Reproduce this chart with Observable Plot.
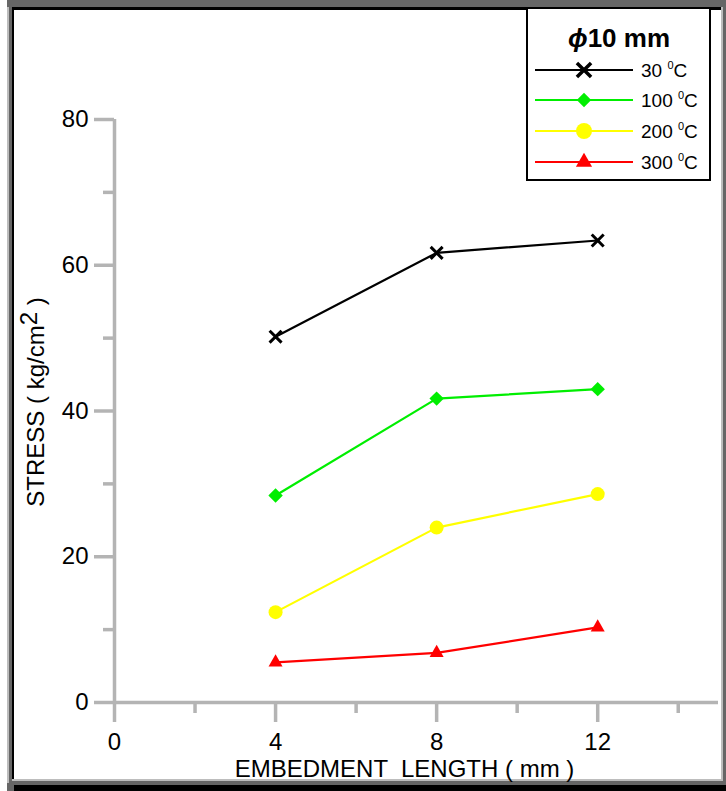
<!DOCTYPE html>
<html>
<head>
<meta charset="utf-8">
<script src="https://cdn.jsdelivr.net/npm/d3@7"></script>
<script src="https://cdn.jsdelivr.net/npm/@observablehq/plot@0.6"></script>
<style>
  html, body { margin: 0; padding: 0; background: #ffffff; }
  #wrap { position: relative; width: 726px; height: 791px; overflow: hidden; font-family: "Liberation Sans", Arial, sans-serif; }
  .f { position: absolute; }
  #chart, #legend { position: absolute; left: 0; top: 0; }
</style>
</head>
<body>
<div id="wrap">
  <div class="f" style="left:7px;top:0;width:719px;height:791px;background:#666666"></div>
  <div class="f" style="left:7px;top:7px;width:2px;height:776px;background:#bdbdbd"></div>
  <div class="f" style="left:14px;top:785px;width:712px;height:6px;background:#000000"></div>
  <div class="f" style="left:12px;top:7px;width:711px;height:774px;background:#bdbdbd"></div>
  <div class="f" style="left:12px;top:7px;width:709px;height:772px;background:#000000"></div>
  <div class="f" style="left:14px;top:10px;width:707px;height:769px;background:#ffffff"></div>
  <div id="chart"></div>
  <svg id="legend" width="726" height="791"></svg>
</div>
<script>
// ---- data ----
const lengths = [4, 8, 12];
const stress30 = [50.2, 61.7, 63.4];
const stress100 = [28.4, 41.7, 43.0];
const stress200 = [12.4, 24.0, 28.6];
const stress300 = [5.5, 6.8, 10.3];
const seriesNames = ["30", "100", "200", "300"];
const seriesColors = ["#000000", "#00ee00", "#ffff00", "#ff0000"];
const seriesSymbols = ["times", "diamond2", "circle", "triangle"];
const xMajorTicks = [0, 4, 8, 12];
const xMinorTicks = [2, 6, 10, 14];
const yMajorTicks = [0, 20, 40, 60, 80];
const yMinorTicks = [10, 30, 50, 70];
const xLabel = "EMBEDMENT \u00a0LENGTH ( mm )";
const yLabel = "STRESS ( kg/cm2 )";
const legendTitle = "10 mm";

const allSeries = [stress30, stress100, stress200, stress300];
const rows = [];
allSeries.forEach((vals, s) => vals.forEach((v, i) => rows.push({series: seriesNames[s], length: lengths[i], stress: v})));

const axisGray = "#b4b4b4";
const fontFam = "'Liberation Sans', Arial, sans-serif";

const marks = [
  Plot.ruleX([0], {y1: 0, y2: 80, stroke: axisGray, strokeWidth: 3.5}),
  Plot.ruleY([0], {x1: 0, x2: 15, stroke: axisGray, strokeWidth: 3.5}),
  Plot.axisX(xMajorTicks, {tickSize: 20, tickPadding: 10, stroke: axisGray, strokeWidth: 3.5, fill: "#000", fontSize: 24, label: null, tickFormat: d => String(d)}),
  Plot.axisX(xMinorTicks, {tickSize: 11, stroke: axisGray, strokeWidth: 3.5, fill: "none", label: null, tickFormat: () => ""}),
  Plot.axisY(yMajorTicks, {tickSize: 20, tickPadding: 6, stroke: axisGray, strokeWidth: 3.5, fill: "#000", fontSize: 24, label: null, tickFormat: d => String(d)}),
  Plot.axisY(yMinorTicks, {tickSize: 11, stroke: axisGray, strokeWidth: 3.5, fill: "none", label: null, tickFormat: () => ""}),
  Plot.text([xLabel], {frameAnchor: "bottom", text: d => d, dy: 74, dx: -12, fontSize: 24, fill: "#000", textAnchor: "middle"}),
  Plot.text([yLabel], {frameAnchor: "left", text: d => d, rotate: -90, dx: -78, dy: -9, fontSize: 24, fill: "#000", textAnchor: "middle"})
];

seriesNames.forEach((name, s) => {
  const data = rows.filter(r => r.series === name);
  marks.push(Plot.line(data, {x: "length", y: "stress", stroke: seriesColors[s], strokeWidth: 2.2}));
  const sym = seriesSymbols[s];
  if (sym === "times") {
    marks.push(Plot.dot(data, {x: "length", y: "stress", symbol: sym, r: 5.5, stroke: seriesColors[s], strokeWidth: 3}));
  } else {
    const r = sym === "circle" ? 7 : (sym === "triangle" ? 5.2 : 6.5);
    marks.push(Plot.dot(data, {x: "length", y: "stress", symbol: sym, r, fill: seriesColors[s], stroke: "none"}));
  }
});

const plot = Plot.plot({
  width: 726,
  height: 791,
  marginLeft: 114,
  marginRight: 8,
  marginTop: 119,
  marginBottom: 89,
  x: {domain: [0, 15], axis: null},
  y: {domain: [0, 80], axis: null},
  style: {background: "transparent", fontFamily: fontFam, fontSize: "24px", overflow: "visible", color: "#000"},
  marks
});
document.getElementById("chart").appendChild(plot);

// superscript 2 in the y label
d3.select(plot).selectAll("text").filter(function() { return this.textContent === yLabel; })
  .each(function() {
    const t = d3.select(this);
    t.attr("text-anchor", "middle");
    t.text(null);
    t.append("tspan").text("STRESS ( kg/cm");
    t.append("tspan").attr("dy", "-0.3em").text("2");
    t.append("tspan").attr("dy", "0.3em").text(" )");
  });

// ---- legend ----
const lg = d3.select("#legend");
lg.append("rect").attr("x", 527).attr("y", 8).attr("width", 183).attr("height", 172)
  .attr("fill", "#fff").attr("stroke", "#000").attr("stroke-width", 2);
const title = lg.append("text").attr("x", 619).attr("y", 47).attr("text-anchor", "middle")
  .attr("font-family", fontFam).attr("font-size", 26).attr("font-weight", "bold");
title.append("tspan").attr("font-style", "italic").text("\u03d5");
title.append("tspan").text(legendTitle);
const rowY = [70, 100, 131, 162];
seriesNames.forEach((name, s) => {
  const y = rowY[s];
  lg.append("line").attr("x1", 535).attr("x2", 633).attr("y1", y).attr("y2", y)
    .attr("stroke", seriesColors[s]).attr("stroke-width", 2.2);
  const sym = seriesSymbols[s];
  const symType = {times: d3.symbolTimes, diamond2: d3.symbolDiamond2, circle: d3.symbolCircle, triangle: d3.symbolTriangle}[sym];
  const r = sym === "times" ? 6.5 : sym === "circle" ? 8 : sym === "triangle" ? 6 : 6.5;
  const path = lg.append("path").attr("transform", `translate(584,${y})`)
    .attr("d", d3.symbol(symType, Math.PI * r * r)());
  if (sym === "times") path.attr("fill", "none").attr("stroke", seriesColors[s]).attr("stroke-width", 3.5);
  else path.attr("fill", seriesColors[s]);
  const t = lg.append("text").attr("x", 641).attr("y", y + 7)
    .attr("font-family", fontFam).attr("font-size", 19).attr("fill", "#000");
  t.append("tspan").text(name + " ");
  t.append("tspan").attr("font-size", 11).attr("dy", -8).text("0");
  t.append("tspan").attr("dy", 8).text("C");
});
</script>
</body>
</html>
